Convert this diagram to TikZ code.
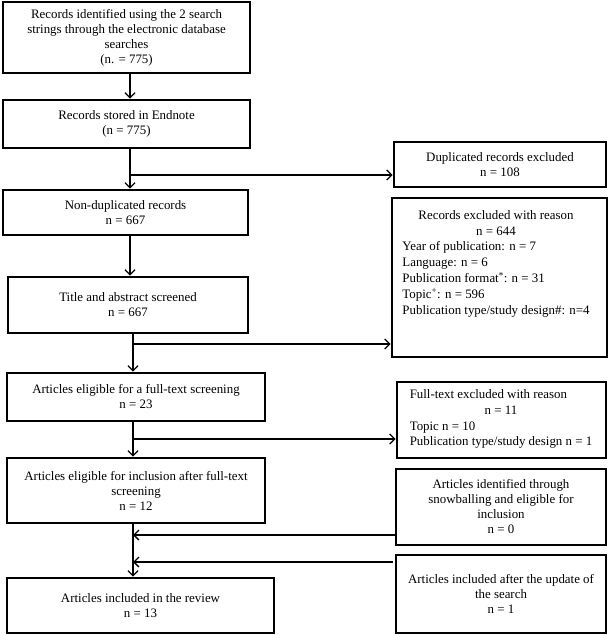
\documentclass[tikz,border=0pt]{standalone}
\usepackage{fontspec}
\setmainfont{Liberation Serif}
\usetikzlibrary{arrows.meta}
\begin{document}
\begin{tikzpicture}[x=1pt,y=-1pt,
  box/.style={draw=black,line width=2.8pt,rectangle,inner sep=0pt,align=center,
    font=\fontsize{12.9}{15}\selectfont},
  txt/.style={inner sep=0pt,font=\fontsize{12.9}{15.8}\selectfont},
  conn/.style={line width=1.3pt},
  arr/.style={conn,-{Straight Barb[length=5pt,width=10pt,line width=1.3pt]}}]
\useasboundingbox (0,0) rectangle (610,635);
% left column
\node[box,minimum width=247pt,minimum height=71pt] (b1) at (126.5,37.5)
  {Records identified using the 2 search\\strings through the electronic database\\searches\\(n. = 775)};
\node[box,minimum width=247pt,minimum height=48pt] (b2) at (126.5,124)
  {Records stored in Endnote\\(n = 775)};
\node[box,minimum width=245pt,minimum height=45pt] (b3) at (125.5,212.5)
  {Non-duplicated records\\n = 667};
\node[box,minimum width=240pt,minimum height=56pt] (b4) at (128,305)
  {Title and abstract screened\\n = 667};
\node[box,minimum width=258pt,minimum height=48pt] (b5) at (136,397)
  {Articles eligible for a full-text screening\\n = 23};
\node[box,minimum width=258pt,minimum height=65pt] (b6) at (136,490.5)
  {Articles eligible for inclusion after full-text\\screening\\n = 12};
\node[box,minimum width=267pt,minimum height=55pt] (b7) at (140.5,605.5)
  {Articles included in the review\\n = 13};
% right column
\node[box,minimum width=212pt,minimum height=45pt] (dup) at (500,164.5)
  {Duplicated records excluded\\n = 108};
\node[box,minimum width=215pt,minimum height=159pt] (rex) at (499.5,277.5) {};
\node[txt,anchor=north] (rext) at (496,208)
  {\begin{tabular}{@{}l@{}}
   \multicolumn{1}{@{}c@{}}{Records excluded with reason}\\
   \multicolumn{1}{@{}c@{}}{n = 644}\\
   Year of publication: n = 7\\
   Language: n = 6\\
   Publication format\textsuperscript{*}: n = 31\\
   Topic\textsuperscript{+}: n = 596\\
   Publication type/study design\#: n=4
   \end{tabular}};
\node[box,minimum width=209pt,minimum height=76pt] (ftex) at (501.5,420) {};
\node[txt,anchor=center] (ftext) at (501,419)
  {\begin{tabular}{@{}l@{}}
   Full-text excluded with reason\\
   \multicolumn{1}{@{}c@{}}{n = 11}\\
   Topic n = 10\\
   Publication type/study design n = 1
   \end{tabular}};
\node[box,minimum width=210pt,minimum height=76pt] (snow) at (501,507)
  {Articles identified through\\snowballing and eligible for\\inclusion\\n = 0};
\node[box,minimum width=210pt,minimum height=78pt] (upd) at (501,594)
  {Articles included after the update of\\the search\\n = 1};
% helper coordinates
\coordinate (xa) at (130,0);
\coordinate (xb) at (133,0);
\coordinate (j1) at (130,175);
\coordinate (j2) at (133,344);
\coordinate (j3) at (133,439);
\coordinate (j4) at (133,535);
\coordinate (j5) at (133,562);
\coordinate (s4) at (396,535);
\coordinate (s5) at (393,562);
% connectors
\draw[arr] (b1.south -| xa) -- (b2.north -| xa);
\draw[arr] (b2.south -| xa) -- (b3.north -| xa);
\draw[arr] (j1) -- (dup.west |- j1);
\draw[arr] (b3.south -| xa) -- (b4.north -| xa);
\draw[arr] (b4.south -| xb) -- (b5.north -| xb);
\draw[arr] (j2) -- (rex.west |- j2);
\draw[arr] (b5.south -| xb) -- (b6.north -| xb);
\draw[arr] (j3) -- (ftex.west |- j3);
\draw[arr] (b6.south -| xb) -- (b7.north -| xb);
\draw[arr] (snow.west |- s4) -- (j4);
\draw[arr] (s5) -- (j5);
\end{tikzpicture}
\end{document}
